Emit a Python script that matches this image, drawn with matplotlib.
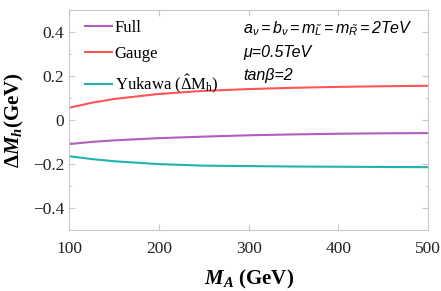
"""
Corrección a la masa del Higgs en función de M_A: contribuciones gauge, Yukawa y total.
"""

import numpy as np
import matplotlib.pyplot as plt
from matplotlib.ticker import MultipleLocator

# ==============================================================================
# DATOS
# ==============================================================================
m_a = [100, 125, 150, 200, 250, 300, 350, 400, 450, 500]
full = [-0.110, -0.100, -0.093, -0.083, -0.076, -0.070, -0.066, -0.063, -0.061, -0.060]
gauge = [0.055, 0.078, 0.095, 0.118, 0.132, 0.140, 0.146, 0.150, 0.153, 0.155]
yukawa = [-0.165, -0.178, -0.188, -0.201, -0.208, -0.210, -0.212, -0.213, -0.214, -0.215]

x_ticks = [100, 200, 300, 400, 500]
y_ticks = [-0.4, -0.2, 0.0, 0.2, 0.4]
y_tick_labels = ['\u22120.4', '\u22120.2', '0', '0.2', '0.4']

# ==============================================================================
# ESTILO
# ==============================================================================
plt.rcParams['font.family'] = 'serif'
plt.rcParams['font.serif'] = ['Liberation Serif', 'DejaVu Serif']
plt.rcParams['mathtext.fontset'] = 'custom'
plt.rcParams['mathtext.rm'] = 'Liberation Serif'
plt.rcParams['mathtext.it'] = 'Liberation Serif:italic'
plt.rcParams['mathtext.bf'] = 'Liberation Serif:bold'
plt.rcParams['mathtext.bfit'] = 'Liberation Serif:bold:italic'
plt.rcParams['mathtext.sf'] = 'Liberation Sans:italic'

frame_color = '#c8c8c8'

fig, ax = plt.subplots(figsize=(4.41, 2.91), dpi=100)
fig.subplots_adjust(left=0.157, right=0.971, top=0.966, bottom=0.210)

ax.plot(m_a, full, color='#b05ec0', linewidth=1.5, label='Full')
ax.plot(m_a, gauge, color='#ff5555', linewidth=1.5, label='Gauge')
ax.plot(m_a, yukawa, color='#20b2b0', linewidth=1.5,
        label=r'Yukawa ($\hat{\Delta}$M$_{\mathrm{h}}$)')

ax.set_xlim(100, 500)
ax.set_ylim(-0.5, 0.5)
ax.set_xticks(x_ticks)
ax.set_yticks(y_ticks)
ax.set_yticklabels(y_tick_labels)
ax.yaxis.set_minor_locator(MultipleLocator(0.1))

for side in ax.spines.values():
    side.set_color(frame_color)
    side.set_linewidth(0.8)
ax.tick_params(which='both', direction='in', top=True, right=True,
               color=frame_color, labelsize=12.5, labelcolor='#222222')
ax.tick_params(which='major', length=4)
ax.tick_params(which='minor', length=2)
ax.tick_params(axis='x', pad=8)

ax.set_xlabel(r'$\mathbfit{M_A}$ (GeV)', fontsize=15, fontweight='bold', labelpad=8)
ax.set_ylabel(r'$\mathbf{\Delta}\mathbfit{M_h}$(GeV)', fontsize=15, fontweight='bold',
              labelpad=5)

leg = ax.legend(loc='upper left', frameon=False, fontsize=12, handlelength=1.65,
                handletextpad=0.15, borderaxespad=0.2, labelspacing=0.62,
                bbox_to_anchor=(0.015, 1.0))

ann = dict(transform=ax.transAxes, fontsize=11.5, va='center')
ax.text(0.485, 0.915,
        r'$\mathsf{a_{\nu}{=}b_{\nu}{=}m_{\tilde{L}}{=}m_{\tilde{R}}{=}2TeV}$', **ann)
ax.text(0.485, 0.808, '\u03bc=0.5TeV', style='italic',
        family=['Liberation Sans', 'DejaVu Sans'], **ann)
ax.text(0.485, 0.703, 'tan\u03b2=2', style='italic',
        family=['Liberation Sans', 'DejaVu Sans'], **ann)

plt.savefig('out.png', dpi=100)
plt.close()
